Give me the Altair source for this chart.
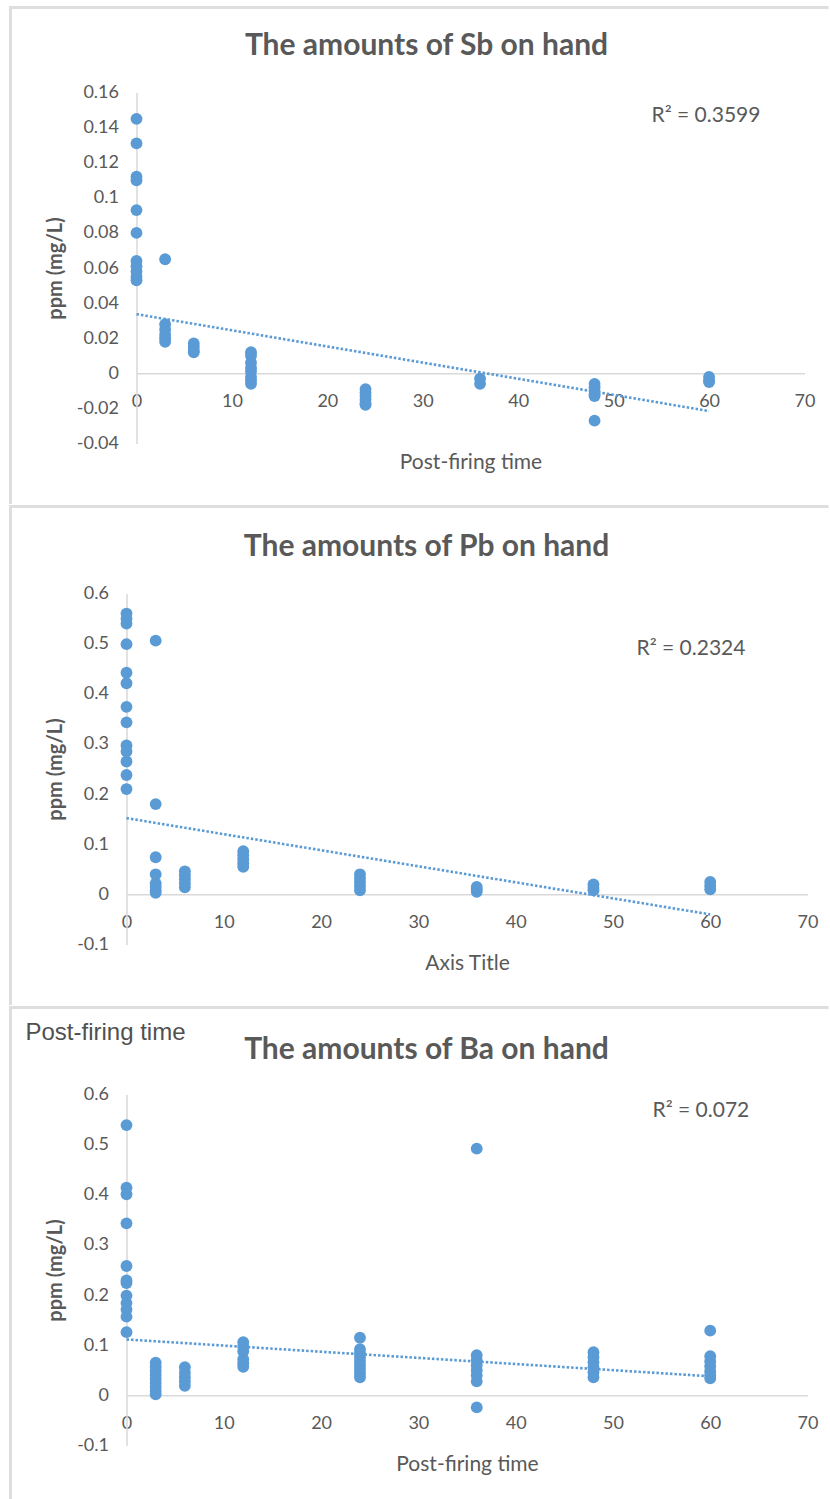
import altair as alt
import pandas as pd

FONT = "Lato"
BLUE = "#5B9BD5"
GRAY = "#595959"
AXIS_GRAY = "#D9D9D9"
FRAME_GRAY = "#DEDEDE"

# ---------------- data ----------------
x_ticks = [0, 10, 20, 30, 40, 50, 60, 70]

sb_time = [0, 0, 0, 0, 0, 0, 0, 0, 0, 0, 0,
           3, 3, 3, 3, 3, 3,
           6, 6, 6, 6,
           12, 12, 12, 12, 12, 12, 12, 12,
           24, 24, 24, 24, 24, 24,
           36, 36,
           48, 48, 48, 48, 48, 48,
           60, 60, 60]
sb_ppm = [0.145, 0.131, 0.112, 0.110, 0.093, 0.080, 0.064, 0.061, 0.058, 0.055, 0.053,
          0.065, 0.028, 0.025, 0.022, 0.020, 0.018,
          0.017, 0.015, 0.013, 0.012,
          0.012, 0.010, 0.006, 0.003, 0.001, -0.002, -0.004, -0.006,
          -0.009, -0.011, -0.013, -0.015, -0.017, -0.018,
          -0.003, -0.006,
          -0.006, -0.008, -0.010, -0.012, -0.013, -0.027,
          -0.002, -0.004, -0.005]
sb_trend_time = [0, 60]
sb_trend_ppm = [0.0337, -0.0215]
sb_y_ticks = [-0.04, -0.02, 0, 0.02, 0.04, 0.06, 0.08, 0.1, 0.12, 0.14, 0.16]

pb_time = [0, 0, 0, 0, 0, 0, 0, 0, 0, 0, 0, 0, 0,
           3, 3, 3, 3, 3, 3, 3, 3,
           6, 6, 6, 6, 6,
           12, 12, 12, 12, 12,
           24, 24, 24, 24, 24,
           36, 36, 36,
           48, 48, 48,
           60, 60, 60]
pb_ppm = [0.560, 0.550, 0.540, 0.499, 0.442, 0.421, 0.374, 0.343, 0.297, 0.285, 0.265, 0.238, 0.210,
          0.506, 0.180, 0.074, 0.040, 0.022, 0.015, 0.008, 0.003,
          0.046, 0.038, 0.030, 0.022, 0.014,
          0.086, 0.078, 0.070, 0.062, 0.055,
          0.040, 0.032, 0.024, 0.016, 0.008,
          0.015, 0.010, 0.005,
          0.020, 0.013, 0.008,
          0.025, 0.017, 0.010]
pb_trend_time = [0, 60]
pb_trend_ppm = [0.152, -0.040]
pb_y_ticks = [-0.1, 0, 0.1, 0.2, 0.3, 0.4, 0.5, 0.6]

ba_time = [0, 0, 0, 0, 0, 0, 0, 0, 0, 0, 0, 0,
           3, 3, 3, 3, 3, 3, 3, 3, 3,
           6, 6, 6, 6, 6,
           12, 12, 12, 12, 12, 12,
           24, 24, 24, 24, 24, 24, 24, 24, 24,
           36, 36, 36, 36, 36, 36, 36, 36,
           48, 48, 48, 48, 48, 48,
           60, 60, 60, 60, 60, 60, 60]
ba_ppm = [0.539, 0.414, 0.401, 0.343, 0.258, 0.229, 0.224, 0.199, 0.184, 0.171, 0.157, 0.126,
          0.065, 0.057, 0.049, 0.041, 0.033, 0.025, 0.017, 0.009, 0.002,
          0.056, 0.045, 0.036, 0.028, 0.019,
          0.106, 0.097, 0.088, 0.072, 0.064, 0.057,
          0.115, 0.092, 0.084, 0.076, 0.068, 0.060, 0.052, 0.044, 0.036,
          0.492, 0.080, 0.070, 0.060, 0.050, 0.040, 0.028, -0.024,
          0.086, 0.076, 0.066, 0.056, 0.046, 0.036,
          0.129, 0.078, 0.068, 0.058, 0.048, 0.040, 0.034]
ba_trend_time = [0, 60]
ba_trend_ppm = [0.1115, 0.038]
ba_y_ticks = [-0.1, 0, 0.1, 0.2, 0.3, 0.4, 0.5, 0.6]

titles = ["The amounts of Sb on hand", "The amounts of Pb on hand", "The amounts of Ba on hand"]
r2_labels = ["R\u00b2 = 0.3599", "R\u00b2 = 0.2324", "R\u00b2 = 0.072"]
x_titles = ["Post-firing time", "Axis Title", "Post-firing time"]
y_title = "ppm (mg/L)"
stray_label = "Post-firing time"

# shared panel geometry (plot area of every panel starts at the same place)
PW = 681          # plot width
PH = 351          # plot height
BOUND_TOP = -88.5  # top edge of every panel cell, relative to the plot's top
BOUND_LEFT = -117.5
CELL_H = 500


def one_row():
    return pd.DataFrame({"k": [0]})


def panel(time, ppm, trend_t, trend_p, y_ticks, inset, x_end, title, title_y,
          r2, r2_xy, x_title, frame_top, extra=None):
    ymin, ymax = min(y_ticks), max(y_ticks)
    zero_offset = -PH * (0 - ymin) / (ymax - ymin)
    df = pd.DataFrame({"time": time, "ppm": ppm})
    tdf = pd.DataFrame({"time": trend_t, "ppm": trend_p})

    x = alt.X("time:Q",
              scale=alt.Scale(domain=[0, 70], nice=False, zero=False,
                              range=[inset, x_end]),
              axis=alt.Axis(values=x_ticks, labelExpr="'' + datum.value",
                            ticks=False, tickSize=0, grid=False,
                            domainColor=AXIS_GRAY, domainWidth=1.5,
                            labelColor=GRAY, labelFont=FONT, labelFontSize=18,
                            labelPadding=19, labelFlush=False, labelOverlap=False,
                            offset=zero_offset,
                            title=x_title, titleY=19 - zero_offset,
                            titleX=(inset + x_end) / 2,
                            titleBaseline="middle", titleFont=FONT,
                            titleFontSize=21, titleFontWeight="normal",
                            titleColor=GRAY))
    y = alt.Y("ppm:Q",
              scale=alt.Scale(domain=[ymin, ymax], nice=False, zero=False),
              axis=alt.Axis(values=y_ticks, labelExpr="'' + datum.value",
                            ticks=False, tickSize=0, grid=False,
                            domainColor=AXIS_GRAY, domainWidth=1.5,
                            labelColor=GRAY, labelFont=FONT, labelFontSize=18,
                            labelPadding=18, labelOverlap=False,
                            offset=-inset,
                            title=y_title, titleX=-71 - inset, titleY=PH / 2,
                            titleAngle=270, titleAlign="center",
                            titleBaseline="middle", titleFont=FONT,
                            titleFontSize=20, titleFontWeight="bold",
                            titleColor=GRAY))

    pts = alt.Chart(df).mark_circle(size=140, color=BLUE, opacity=1).encode(x=x, y=y)
    trend = alt.Chart(tdf).mark_line(color=BLUE, strokeDash=[2.5, 2],
                                     strokeWidth=2.6).encode(x=x, y=y)

    fb = BOUND_TOP + CELL_H
    spacer = alt.Chart(one_row()).mark_rect(opacity=0).encode(
        x=alt.value(BOUND_LEFT), x2=alt.value(0), y=alt.value(BOUND_TOP), y2=alt.value(fb))
    top_bar = alt.Chart(one_row()).mark_rect(color=FRAME_GRAY).encode(
        x=alt.value(BOUND_LEFT), x2=alt.value(702),
        y=alt.value(frame_top - 1.5), y2=alt.value(frame_top + 1.5))
    left_bar = alt.Chart(one_row()).mark_rect(color=FRAME_GRAY).encode(
        x=alt.value(BOUND_LEFT), x2=alt.value(BOUND_LEFT + 3),
        y=alt.value(frame_top - 1.5), y2=alt.value(fb))

    ttl = alt.Chart(one_row()).mark_text(
        font=FONT, fontSize=30, fontWeight="bold", color=GRAY,
        align="center", baseline="middle", text=title).encode(
        x=alt.value(300), y=alt.value(title_y))
    r2t = alt.Chart(one_row()).mark_text(
        font=FONT, fontSize=21, color=GRAY, align="left", baseline="middle",
        text=r2).encode(x=alt.value(r2_xy[0]), y=alt.value(r2_xy[1]))

    layers = [spacer, top_bar, left_bar, pts, trend, ttl, r2t]
    if extra is not None:
        layers.append(alt.Chart(one_row()).mark_text(
            font="Liberation Sans", fontSize=24, color="#505050",
            align="left", baseline="middle", text=extra[0]).encode(
            x=alt.value(extra[1]), y=alt.value(extra[2])))
    return alt.layer(*layers).properties(width=PW, height=PH)


p1 = panel(sb_time, sb_ppm, sb_trend_time, sb_trend_ppm, sb_y_ticks, 10, 678,
           titles[0], -47, r2_labels[0], (525, 23), x_titles[0], -85)
p2 = panel(pb_time, pb_ppm, pb_trend_time, pb_trend_ppm, pb_y_ticks, 0, 681,
           titles[1], -47, r2_labels[1], (510, 55), x_titles[1], -87)
p3 = panel(ba_time, ba_ppm, ba_trend_time, ba_trend_ppm, ba_y_ticks, 0, 681,
           titles[2], -45, r2_labels[2], (526, 16), x_titles[2], -87,
           extra=(stray_label, -101, -62))

chart = alt.concat(p1, p2, p3, columns=1, spacing=0, align="none",
                   bounds="full").properties(
    padding={"left": 8.5, "top": 3.5, "right": 0, "bottom": 0},
    background="white",
).configure_view(stroke=None)

chart.save("out.html", embed_options={"renderer": "svg", "actions": False})
